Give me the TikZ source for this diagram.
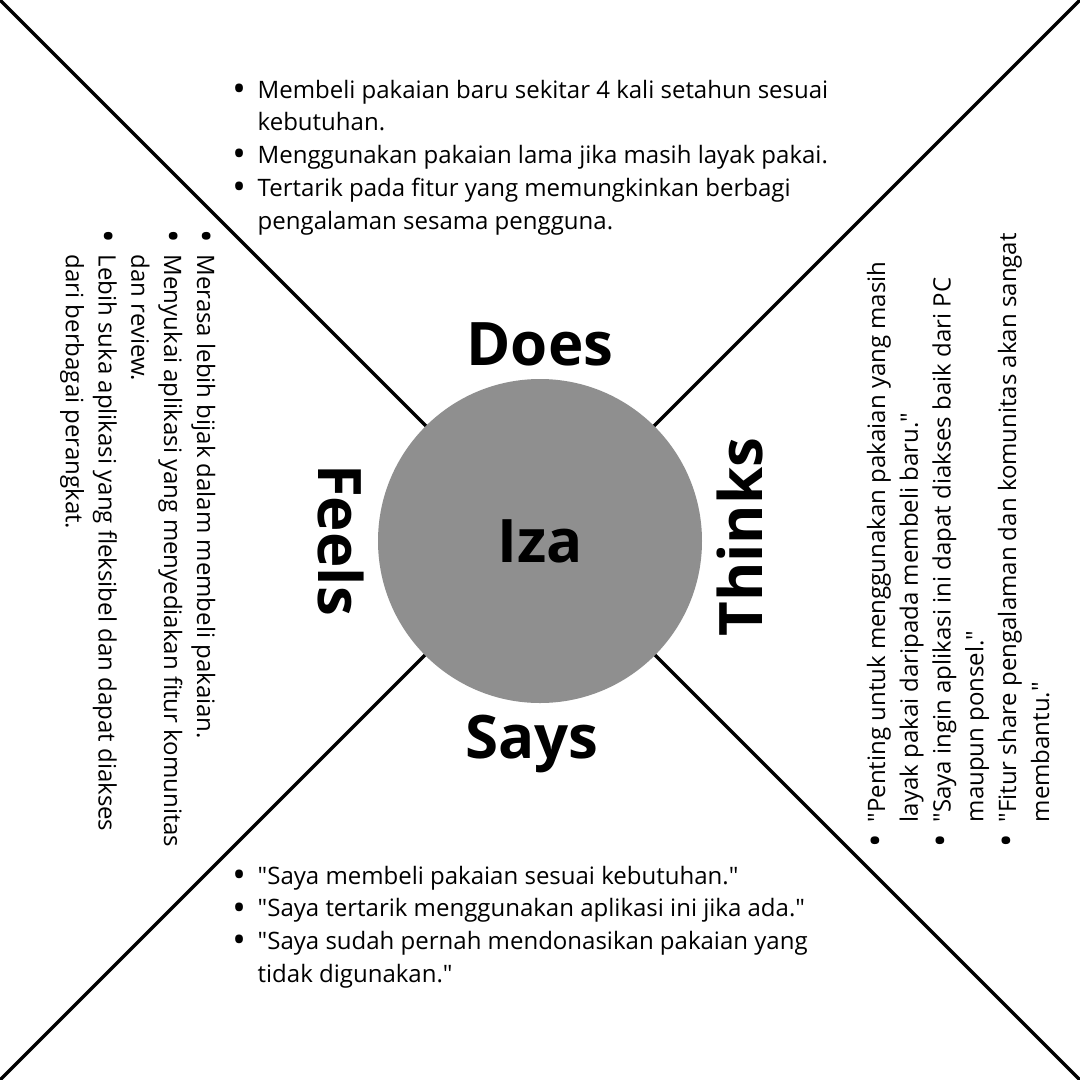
\documentclass[tikz,border=0pt]{standalone}
\usepackage{graphicx}
\usepackage{fontspec}
% a family of its own keeps the straight " quotes (no TeX ligature mapping)
\newfontfamily\mapfont{Open Sans}
\definecolor{hubgray}{HTML}{8F8F8F}
% bullet mark and the indent of continuation lines
\newcommand*\bulletmark{\makebox[23pt][l]{\hspace{4.5pt}\makebox[0pt][c]{\raisebox{-3.2pt}{\scalebox{1.5}{•}}}}}
\newcommand*\contind{\hspace*{23pt}}
\begin{document}
\begin{tikzpicture}[x=1pt,y=-1pt,
  body/.style={font=\mapfont\fontsize{24}{32.8}\selectfont, align=left, inner sep=0pt, anchor=base west},
  heading/.style={font=\mapfont\fontsize{60}{60}\selectfont\bfseries, inner sep=0pt, anchor=base},
  divider/.style={line width=3.5pt, black},
  hub/.style={circle, fill=hubgray, minimum size=324pt, inner sep=0pt,
              font=\mapfont\fontsize{60}{60}\selectfont\bfseries}]

% canvas
\fill[white] (0,0) rectangle (1080,1080);
\useasboundingbox (0,0) rectangle (1080,1080);

% corners of the map
\coordinate (tl) at (0,0);
\coordinate (tr) at (1080,0);
\coordinate (bl) at (0,1080);
\coordinate (br) at (1080,1080);

% quadrant dividers
\draw[divider] (tl) -- (br);
\draw[divider] (tr) -- (bl);

% persona in the middle
\node[hub] (iza) at (540,541) {Iza};

% quadrant headings
\node[heading] (does) at (540,365) {Does};
\node[heading] (says) at (532,758) {Says};
\node[heading, rotate=-90] (feels) at (318,540) {Feels};
\node[heading, rotate=90] (thinks) at (762,537) {Thinks};

% Does (anchored at the baseline of its last line)
\node[body] (doesnotes) at (234.5,229.2) {%
\bulletmark Membeli pakaian baru sekitar 4 kali setahun sesuai\\
\contind kebutuhan.\\
\bulletmark Menggunakan pakaian lama jika masih layak pakai.\\
\bulletmark Tertarik pada fitur yang memungkinkan berbagi\\
\contind pengalaman sesama pengguna.};

% Says
\node[body] (saysnotes) at (234.5,982.4) {%
\bulletmark "Saya membeli pakaian sesuai kebutuhan."\\
\bulletmark "Saya tertarik menggunakan aplikasi ini jika ada."\\
\bulletmark "Saya sudah pernah mendonasikan pakaian yang\\
\contind tidak digunakan."};

% Feels
\node[body, rotate=-90] (feelsnotes) at (65.8,231.5) {%
\bulletmark Merasa lebih bijak dalam membeli pakaian.\\
\bulletmark Menyukai aplikasi yang menyediakan fitur komunitas\\
\contind dan review.\\
\bulletmark Lebih suka aplikasi yang fleksibel dan dapat diakses\\
\contind dari berbagai perangkat.};

% Thinks
\node[body, rotate=90] (thinksnotes) at (1049,845.5) {%
\bulletmark "Penting untuk menggunakan pakaian yang masih\\
\contind layak pakai daripada membeli baru."\\
\bulletmark "Saya ingin aplikasi ini dapat diakses baik dari PC\\
\contind maupun ponsel."\\
\bulletmark "Fitur share pengalaman dan komunitas akan sangat\\
\contind membantu."};

\end{tikzpicture}
\end{document}
